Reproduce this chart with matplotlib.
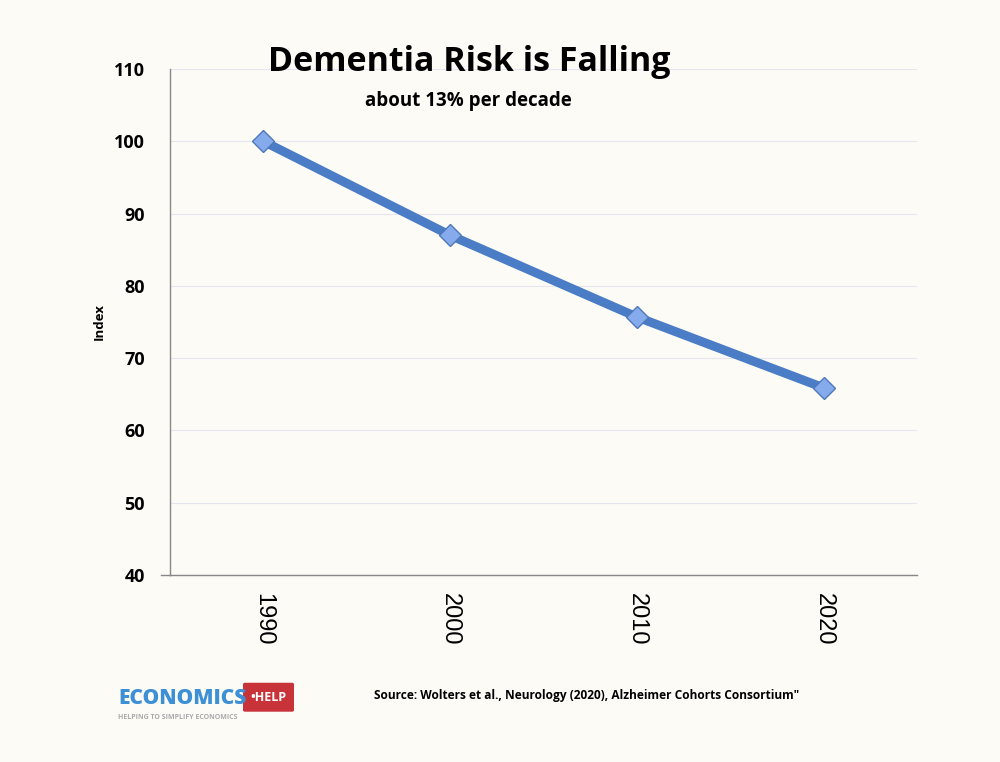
import matplotlib.pyplot as plt
from matplotlib.patches import FancyBboxPatch

# data
years = ["1990", "2000", "2010", "2020"]
index_values = [100, 87, 75.7, 65.9]
y_ticks = [40, 50, 60, 70, 80, 90, 100, 110]

bg = "#fcfbf6"
fig = plt.figure(figsize=(10, 7.62), dpi=100, facecolor=bg)
ax = fig.add_axes([0.17, 0.2454, 0.747, 0.664])
ax.set_facecolor(bg)

x = range(len(years))
ax.plot(x, index_values, color="#4a7dc6", linewidth=6.5, solid_capstyle="round",
        marker="D", markersize=11.5, markerfacecolor="#86abec",
        markeredgecolor="#4f78b8", markeredgewidth=1, zorder=3)

ax.set_xlim(-0.5, 3.5)
ax.set_ylim(40, 110)
ax.set_yticks(y_ticks)
ax.set_yticklabels([str(t) for t in y_ticks], fontsize=13, fontweight="bold",
                   family="Open Sans")
ax.set_xticks(list(x))
ax.set_xticklabels(years, rotation=-90, fontsize=17, family="Liberation Sans")
ax.tick_params(axis="x", length=0, pad=13)
ax.tick_params(axis="y", length=0, pad=18)
ax.grid(axis="y", color="#e6e6ee", linewidth=0.8)
ax.set_axisbelow(True)
for side in ["top", "right"]:
    ax.spines[side].set_visible(False)
ax.spines["left"].set_color("#888888")
ax.spines["bottom"].set_color("#888888")
ax.spines["left"].set_linewidth(1)
ax.spines["bottom"].set_linewidth(1)
# bottom line pokes slightly left of the y axis
ax.plot([-0.55, -0.5], [40, 40], color="#888888", linewidth=1, clip_on=False)
ax.set_ylabel("Index", fontsize=9.5, fontweight="bold", family="Open Sans", labelpad=6)

fig.text(0.469, 0.918, "Dementia Risk is Falling", ha="center", va="center",
         fontsize=24.5, fontweight="bold", family="Open Sans")
fig.text(0.468, 0.867, "about 13% per decade", ha="center", va="center",
         fontsize=13.5, fontweight="bold", family="Open Sans")

fig.text(0.587, 0.087, "Source: Wolters et al., Neurology (2020), Alzheimer Cohorts Consortium\"",
         ha="center", va="center", fontsize=8.6, fontweight="bold", family="Open Sans")

# logo
fig.text(0.118, 0.083, "ECONOMICS", ha="left", va="center", fontsize=15,
         fontweight="heavy", color="#3d8fd6", family="Open Sans")
tag = FancyBboxPatch((0.245, 0.068), 0.047, 0.034, boxstyle="round,pad=0.002",
                     transform=fig.transFigure, facecolor="#c8333a", edgecolor="none")
fig.patches.append(tag)
fig.text(0.268, 0.085, "•HELP", ha="center", va="center", fontsize=9,
         fontweight="bold", color="white", family="Open Sans")
fig.text(0.118, 0.058, "HELPING TO SIMPLIFY ECONOMICS", ha="left", va="center",
         fontsize=5, color="#aaaaaa", fontweight="bold", family="Open Sans")

fig.savefig("out.png", dpi=100, facecolor=bg)
